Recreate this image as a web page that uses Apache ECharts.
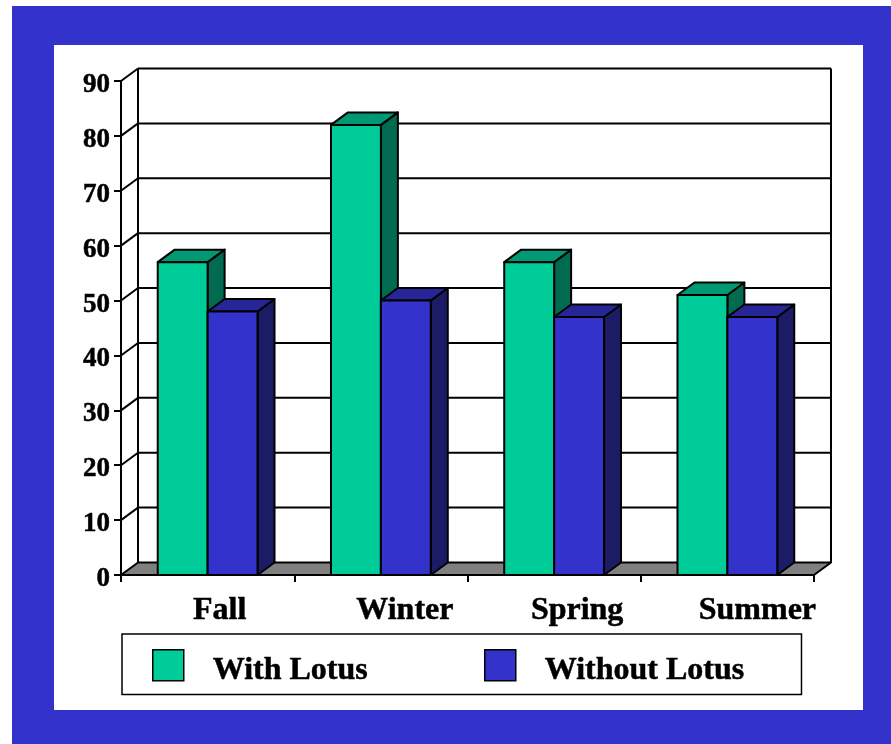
<!DOCTYPE html>
<html>
<head>
<meta charset="utf-8">
<style>html,body{margin:0;padding:0;background:#fff}#c{width:891px;height:744px}</style>
<script src="https://cdn.jsdelivr.net/npm/echarts@6/dist/echarts.min.js"></script>
</head>
<body>
<div id="c"></div>
<script>
const categories = ['Fall', 'Winter', 'Spring', 'Summer'];
const withLotus = [57, 82, 57, 51];
const withoutLotus = [48, 50, 47, 47];
const gridValues = [0, 10, 20, 30, 40, 50, 60, 70, 80, 90];
const labelShift = [24, 48, 46, 60];

const FONT = '"Liberation Serif", serif';
const DEPTH_X = 17, DEPTH_Y = 12.5, LINE = 2;

function poly(points, fill) {
  return { type: 'polygon', shape: { points }, style: { fill, stroke: '#000', lineWidth: LINE, lineJoin: 'round' } };
}
function seg(x1, y1, x2, y2, w) {
  return { type: 'line', shape: { x1, y1, x2, y2 }, style: { stroke: '#000', lineWidth: w || LINE } };
}

// Back wall, left wall rungs and the grey floor
function renderWalls(params, api) {
  const v = api.value(1);
  const cs = params.coordSys;
  const y = api.coord([0, v])[1];
  const L = cs.x, R = cs.x + cs.width;
  const bx = L + DEPTH_X, bxR = R + DEPTH_X, by = y - DEPTH_Y;
  const children = [];
  if (v === 0) {
    children.push(poly([[L, y], [bx, by], [bxR, by], [R, y]], '#808080'));
  } else {
    children.push(seg(L, y, bx, by));
    children.push(seg(bx, by, bxR, by));
  }
  if (v === 90) {
    const floorY = api.coord([0, 0])[1] - DEPTH_Y;
    children.push(seg(bx, by, bx, floorY));
    children.push(seg(bxR, by, bxR, floorY));
  }
  return { type: 'group', children };
}

// Extruded bar: front, top and side faces
function barRenderer(side, front, top, right) {
  return function (params, api) {
    const p = api.coord([api.value(0), api.value(1)]);
    const base = api.coord([api.value(0), 0])[1];
    const w = api.size([1, 0])[0] * 0.288;
    const x0 = side < 0 ? p[0] - w : p[0];
    const x1 = x0 + w, y = p[1];
    return {
      type: 'group',
      children: [
        poly([[x1, y], [x1 + DEPTH_X, y - DEPTH_Y], [x1 + DEPTH_X, base - DEPTH_Y], [x1, base]], right),
        poly([[x0, y], [x0 + DEPTH_X, y - DEPTH_Y], [x1 + DEPTH_X, y - DEPTH_Y], [x1, y]], top),
        poly([[x0, y], [x1, y], [x1, base], [x0, base]], front)
      ]
    };
  };
}

const boldText = { fontFamily: FONT, fontWeight: 'bold', color: '#000', textBorderColor: '#000', textBorderWidth: 0.5 };

const chart = echarts.init(document.getElementById('c'), null, { renderer: 'canvas' });
chart.setOption({
  animation: false,
  backgroundColor: '#fff',
  graphic: [
    { type: 'rect', z: -20, shape: { x: 12, y: 6, width: 879, height: 738 }, style: { fill: '#3333CC' } },
    { type: 'rect', z: -19, shape: { x: 54, y: 45, width: 809, height: 665 }, style: { fill: '#fff' } }
  ],
  grid: { left: 121, right: 77, top: 81, bottom: 169, containLabel: false },
  legend: {
    left: 122, top: 634,
    data: ['With Lotus', 'Without Lotus'],
    icon: 'rect',
    itemWidth: 31, itemHeight: 31, itemGap: 116,
    padding: [15, 57, 8, 30],
    borderColor: '#000', borderWidth: 1.5,
    itemStyle: { borderColor: '#000', borderWidth: 1.5 },
    formatter: '{t|{name}}',
    textStyle: {
      rich: { t: Object.assign({ fontSize: 32, padding: [10, 0, 0, 24] }, boldText) }
    }
  },
  xAxis: {
    type: 'category',
    data: categories.map((c, i) => ({ value: c, textStyle: { padding: [0, 0, 0, labelShift[i]] } })),
    axisLine: { lineStyle: { color: '#000', width: LINE } },
    axisTick: { show: true, alignWithLabel: false, length: 7, lineStyle: { color: '#000', width: LINE } },
    axisLabel: Object.assign({ fontSize: 32, margin: 20, interval: 0 }, boldText)
  },
  yAxis: {
    type: 'value', min: 0, max: 90, interval: 10,
    splitLine: { show: false },
    axisLine: { show: true, lineStyle: { color: '#000', width: LINE } },
    axisTick: { show: true, length: 7, lineStyle: { color: '#000', width: LINE } },
    axisLabel: {
      margin: 11,
      formatter: '{v|{value}}',
      rich: { v: Object.assign({ fontSize: 27, padding: [8, 0, 0, 0] }, boldText) }
    }
  },
  series: [
    {
      type: 'custom', name: 'walls', z: 1, silent: true,
      encode: { x: 0, y: 1 },
      data: gridValues.map(v => [categories[0], v]),
      renderItem: renderWalls
    },
    {
      type: 'custom', name: 'With Lotus', z: 2,
      itemStyle: { color: '#00CC99' },
      encode: { x: 0, y: 1 },
      data: categories.map((c, i) => [c, withLotus[i]]),
      renderItem: barRenderer(-1, '#00CC99', '#009973', '#006B50')
    },
    {
      type: 'custom', name: 'Without Lotus', z: 3,
      itemStyle: { color: '#3333CC' },
      encode: { x: 0, y: 1 },
      data: categories.map((c, i) => [c, withoutLotus[i]]),
      renderItem: barRenderer(1, '#3333CC', '#262699', '#1C1C66')
    }
  ]
});
</script>
</body>
</html>
